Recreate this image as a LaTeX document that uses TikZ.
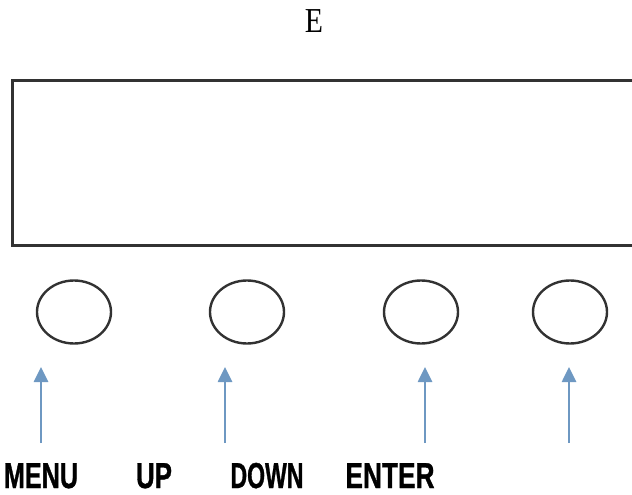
\documentclass[tikz,border=0pt]{standalone}
\usepackage{fontspec}
\newfontfamily\lblfont{Liberation Sans}[BoldFeatures={FakeBold=1.2}]
\newfontfamily\titlefont{Liberation Serif}
\usetikzlibrary{arrows.meta,shapes.geometric}
\definecolor{arrowblue}{RGB}{110,152,194}
\definecolor{edgegray}{RGB}{50,50,50}
\tikzset{
  button/.style={draw=edgegray, line width=2.4pt, ellipse, minimum width=74pt, minimum height=63pt, inner sep=0pt},
  pointer/.style={draw=arrowblue, line width=2.6pt, -{Triangle[width=14pt,length=15pt]}},
  keylabel/.style={inner sep=0pt, anchor=base, font=\lblfont\bfseries\fontsize{36}{36}\selectfont}
}
\begin{document}
\begin{tikzpicture}[x=1pt,y=-1pt]
\useasboundingbox (0,0) rectangle (632,495);
\node[inner sep=0pt, anchor=base, font=\titlefont\fontsize{35}{35}\selectfont] (title) at (314,33) {\scalebox{0.85}[1]{E}};
\node[draw=edgegray, line width=2.6pt, minimum width=624pt, minimum height=165pt, inner sep=0pt, anchor=north west] (screen) at (11,79) {};
\node[button] (b1) at (74,312) {};
\node[button] (b2) at (247,312) {};
\node[button] (b3) at (421,312) {};
\node[button] (b4) at (570,312) {};
\coordinate (t1) at (41,443); \coordinate (h1) at (41,367);
\coordinate (t2) at (225,443); \coordinate (h2) at (225,367);
\coordinate (t3) at (425,443); \coordinate (h3) at (425,367);
\coordinate (t4) at (569,443); \coordinate (h4) at (569,367);
\draw[pointer] (t1) -- (h1);
\draw[pointer] (t2) -- (h2);
\draw[pointer] (t3) -- (h3);
\draw[pointer] (t4) -- (h4);
\node[keylabel] (menu) at (41,488) {\scalebox{0.7}[1]{MENU}};
\node[keylabel] (up) at (154,488) {\scalebox{0.72}[1]{UP}};
\node[keylabel] (down) at (267,488) {\scalebox{0.64}[1]{DOWN}};
\node[keylabel] (enter) at (390,488) {\scalebox{0.73}[1]{ENTER}};
\end{tikzpicture}
\end{document}
